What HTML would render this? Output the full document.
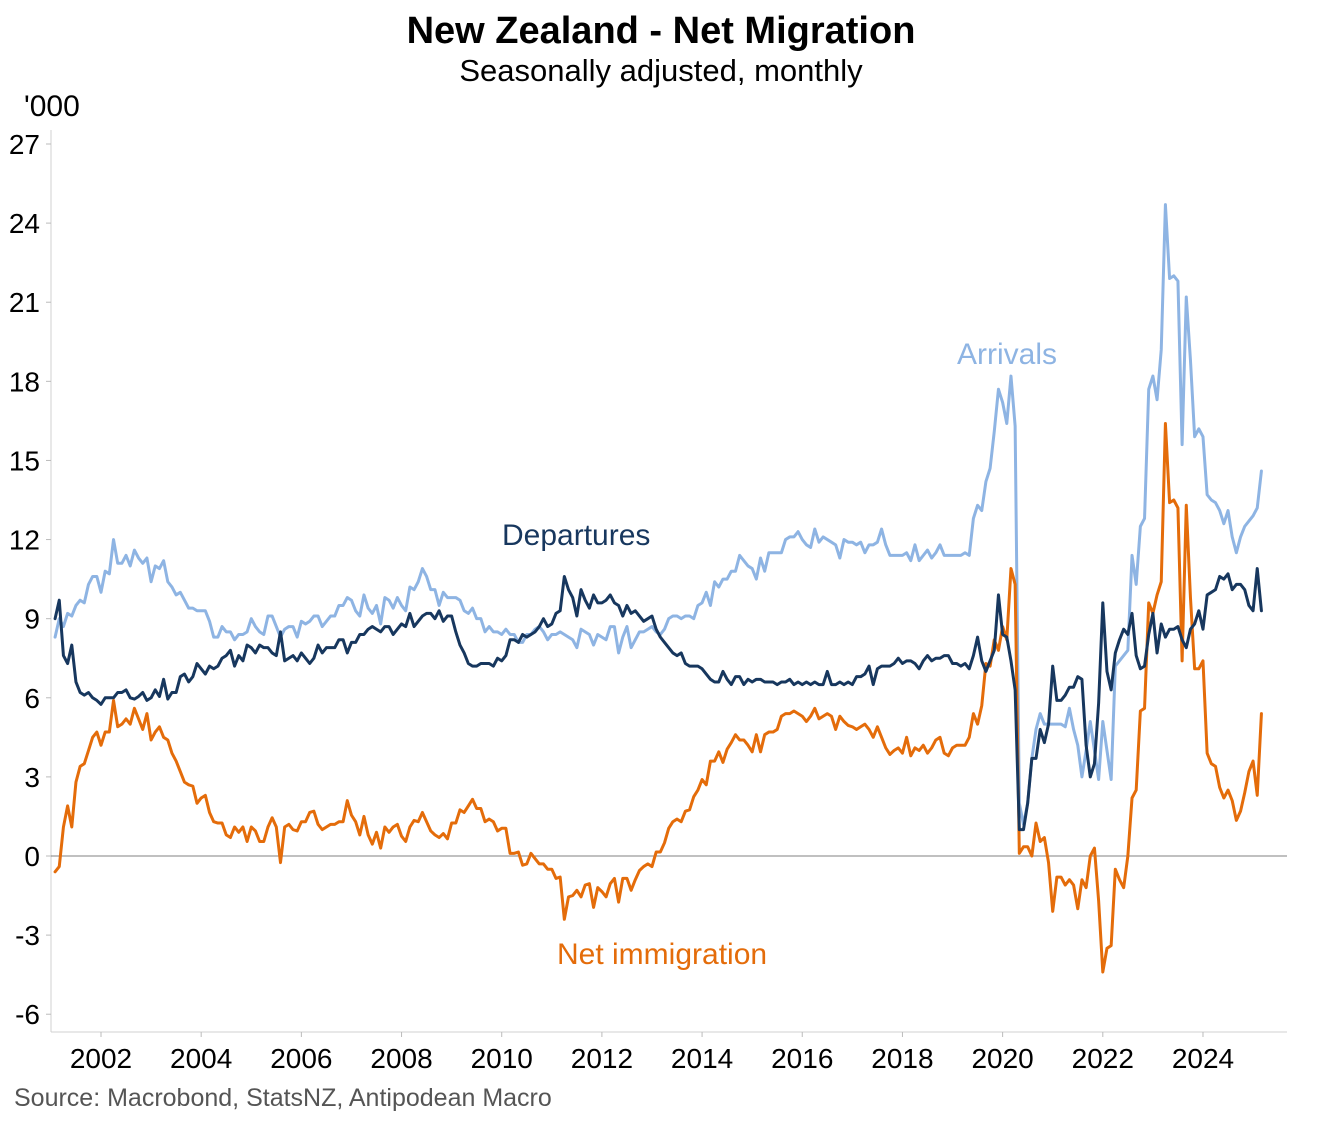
<!DOCTYPE html>
<html>
<head>
<meta charset="utf-8">
<style>
html,body{margin:0;padding:0;background:#fff;}
body{width:1323px;height:1122px;overflow:hidden;font-family:"Liberation Sans",Arial,sans-serif;}
svg{display:block;}
</style>
</head>
<body>
<svg id="chart" width="1323" height="1122" viewBox="0 0 1323 1122" xmlns="http://www.w3.org/2000/svg">
  <text x="661" y="43" text-anchor="middle" font-size="38" font-weight="bold" fill="#000">New Zealand - Net Migration</text>
  <text x="661" y="81" text-anchor="middle" font-size="31" fill="#000">Seasonally adjusted, monthly</text>
  <text x="24" y="116" font-size="30" fill="#000">'000</text>
  <g id="axes"></g>
  <g id="series"></g>
  <text x="957" y="364" font-size="30" fill="#8EB4E3">Arrivals</text>
  <text x="502" y="545" font-size="30" fill="#17375E">Departures</text>
  <text x="557" y="964" font-size="30" fill="#E46C0A">Net immigration</text>
  <text x="14" y="1106" font-size="25" fill="#555">Source: Macrobond, StatsNZ, Antipodean Macro</text>
</svg>
<script>
const yTicks = [-6,-3,0,3,6,9,12,15,18,21,24,27];
const xTickYears = [2002,2004,2006,2008,2010,2012,2014,2016,2018,2020,2022,2024];
const startYear = 2001, startMonth = 1; // Feb 2001 (0-based month)

const departures = [
9.0,9.7,7.6,7.3,8.0,6.6,6.2,6.1,6.2,6.0,5.9,
5.75,6.0,6.0,6.0,6.2,6.2,6.3,6.0,5.95,6.05,6.2,5.9,
6.0,6.3,6.05,6.7,5.95,6.2,6.2,6.8,6.9,6.6,6.8,7.3,
7.1,6.9,7.2,7.1,7.2,7.5,7.6,7.8,7.2,7.6,7.4,8.0,
7.9,7.7,8.0,7.9,7.9,7.7,7.6,8.5,7.4,7.5,7.6,7.4,
7.7,7.5,7.3,7.5,8.0,7.7,7.9,7.9,7.9,8.2,8.2,7.7,
8.1,8.1,8.4,8.4,8.6,8.7,8.6,8.5,8.7,8.7,8.4,8.6,
8.8,8.7,9.2,8.7,8.9,9.1,9.2,9.2,9.0,9.3,8.9,9.1,
9.1,8.5,8.0,7.7,7.3,7.2,7.2,7.3,7.3,7.3,7.2,7.5,
7.4,7.6,8.2,8.2,8.1,8.4,8.3,8.4,8.5,8.7,9.0,8.7,
8.8,9.2,9.3,10.6,10.1,9.8,9.1,10.1,9.7,9.4,9.9,9.6,
9.6,9.7,9.9,9.6,9.5,9.1,9.5,9.2,9.3,9.1,8.9,9.0,
9.1,8.6,8.3,8.1,7.9,7.7,7.6,7.7,7.3,7.2,7.2,7.2,
7.1,6.9,6.7,6.6,6.6,7.0,6.7,6.5,6.8,6.8,6.5,6.7,
6.6,6.7,6.7,6.6,6.6,6.6,6.5,6.6,6.6,6.7,6.5,6.6,
6.5,6.6,6.5,6.6,6.5,6.5,7.0,6.5,6.5,6.6,6.5,6.6,
6.5,6.8,6.8,6.9,7.2,6.5,7.1,7.2,7.2,7.2,7.3,7.5,
7.3,7.4,7.4,7.3,7.1,7.4,7.6,7.4,7.5,7.5,7.6,7.6,
7.3,7.3,7.2,7.3,7.1,7.6,8.3,7.4,7.0,7.4,7.8,9.9,
8.4,8.3,7.4,6.3,1.0,1.0,2.0,3.7,3.7,4.8,4.3,5.0,
7.2,5.9,5.9,6.1,6.4,6.4,6.8,6.7,4.2,3.0,3.5,5.8,
9.6,7.0,6.3,7.7,8.2,8.6,8.4,9.2,7.6,7.1,7.2,8.4,
9.2,7.7,8.8,8.3,8.6,8.6,8.7,8.2,7.9,8.6,8.8,9.3,
8.6,9.9,10.0,10.1,10.6,10.5,10.7,10.1,10.3,10.3,10.1,9.5,
9.3,10.9,9.3];

const arrivals = [
8.3,9.0,8.7,9.2,9.1,9.5,9.7,9.6,10.3,10.6,10.6,
10.0,10.8,10.7,12.0,11.1,11.1,11.4,11.0,11.6,11.3,11.1,11.3,
10.4,11.0,10.9,11.2,10.4,10.2,9.9,10.0,9.7,9.4,9.4,9.3,
9.3,9.3,8.9,8.3,8.3,8.7,8.5,8.5,8.2,8.4,8.4,8.5,
9.0,8.7,8.5,8.4,9.1,9.1,8.7,8.3,8.6,8.7,8.7,8.3,
8.9,8.8,8.9,9.1,9.1,8.7,8.9,9.1,9.1,9.5,9.5,9.8,
9.7,9.3,9.1,9.9,9.4,9.2,9.5,8.8,9.8,9.7,9.4,9.8,
9.5,9.3,10.2,10.1,10.4,10.9,10.6,10.1,10.1,9.5,10.0,9.8,
9.8,9.8,9.7,9.3,9.2,9.4,9.0,9.0,8.5,8.7,8.5,8.5,
8.4,8.6,8.4,8.4,8.1,8.1,8.4,8.4,8.6,8.7,8.5,8.2,
8.4,8.4,8.5,8.4,8.3,8.2,7.9,8.6,8.5,8.4,8.0,8.4,
8.3,8.2,8.7,8.7,7.7,8.3,8.7,7.9,8.2,8.5,8.5,8.6,
8.7,8.5,8.4,8.6,9.0,9.1,9.1,9.0,9.1,9.1,9.0,9.5,
9.6,10.0,9.5,10.4,10.2,10.5,10.5,10.8,10.8,11.4,11.2,11.0,
10.9,10.5,11.3,10.8,11.5,11.5,11.5,11.5,12.0,12.1,12.1,12.3,
12.0,11.8,11.7,12.4,11.9,12.1,12.0,11.9,11.8,11.3,12.0,11.9,
11.9,11.8,11.9,11.5,11.8,11.8,11.9,12.4,11.8,11.4,11.4,11.4,
11.4,11.5,11.2,11.8,11.2,11.4,11.6,11.3,11.5,11.8,11.4,11.4,
11.4,11.4,11.4,11.5,11.4,12.8,13.3,13.1,14.2,14.7,16.1,17.7,
17.2,16.4,18.2,16.3,2.0,1.2,2.0,3.7,4.8,5.4,5.0,5.0,
5.0,5.0,5.0,4.9,5.6,4.8,4.2,3.0,4.0,5.1,4.0,2.9,
5.1,4.0,2.9,7.2,7.4,7.6,7.8,11.4,10.3,12.5,12.8,17.7,
18.2,17.3,19.2,24.7,21.9,22.0,21.8,15.6,21.2,18.8,15.9,16.2,
15.9,13.7,13.5,13.4,13.1,12.6,13.1,12.1,11.5,12.1,12.5,12.7,
12.9,13.2,14.6];

const netImmigration = [
-0.6,-0.4,1.1,1.9,1.1,2.8,3.4,3.5,4.0,4.5,4.7,
4.2,4.7,4.7,5.9,4.9,5.0,5.2,5.0,5.6,5.2,4.8,5.4,
4.4,4.7,4.9,4.5,4.4,3.9,3.6,3.2,2.8,2.7,2.65,2.0,
2.2,2.3,1.65,1.3,1.25,1.25,0.8,0.7,1.1,0.9,1.1,0.55,
1.1,0.95,0.55,0.55,1.1,1.45,1.1,-0.25,1.1,1.2,1.0,0.95,
1.3,1.3,1.65,1.7,1.2,1.0,1.1,1.2,1.2,1.3,1.3,2.1,
1.55,1.3,0.8,1.5,0.8,0.45,0.9,0.3,1.1,0.9,1.1,1.2,
0.75,0.55,1.1,1.35,1.3,1.65,1.3,0.95,0.8,0.7,0.85,0.65,
1.25,1.25,1.75,1.65,1.9,2.15,1.8,1.8,1.3,1.4,1.3,0.95,
1.05,1.05,0.1,0.1,0.15,-0.35,-0.3,0.1,-0.1,-0.3,-0.3,-0.5,
-0.5,-0.85,-0.8,-2.4,-1.55,-1.5,-1.3,-1.55,-1.1,-1.05,-1.95,-1.2,
-1.35,-1.55,-1.05,-0.85,-1.75,-0.85,-0.85,-1.3,-0.9,-0.55,-0.4,-0.3,
-0.4,0.15,0.15,0.5,1.05,1.3,1.4,1.3,1.7,1.75,2.25,2.5,
2.9,2.7,3.6,3.6,3.95,3.55,4.05,4.3,4.6,4.4,4.4,4.2,
3.95,4.6,3.95,4.6,4.7,4.7,4.8,5.3,5.4,5.4,5.5,5.4,
5.3,5.1,5.3,5.6,5.2,5.3,5.4,5.3,4.8,5.3,5.1,4.95,
4.9,4.8,4.9,5.0,4.8,4.5,4.9,4.5,4.1,3.85,4.0,4.1,
3.9,4.5,3.8,4.1,4.0,4.2,3.9,4.1,4.4,4.5,3.9,3.8,
4.1,4.2,4.2,4.2,4.5,5.4,5.0,5.7,7.3,7.2,8.2,7.8,
8.7,8.2,10.9,10.3,0.1,0.35,0.35,0.0,1.25,0.55,0.7,-0.25,
-2.1,-0.8,-0.8,-1.1,-0.9,-1.1,-2.0,-0.9,-1.2,0.0,0.3,-1.7,
-4.4,-3.5,-3.4,-0.5,-0.9,-1.2,0.0,2.2,2.5,5.5,5.6,9.6,
9.2,9.9,10.4,16.4,13.4,13.5,13.2,7.4,13.3,9.8,7.1,7.1,
7.4,3.9,3.5,3.4,2.6,2.2,2.5,2.1,1.35,1.7,2.4,3.2,
3.6,2.3,5.4];

const NS = "http://www.w3.org/2000/svg";
const plotLeft = 51, plotRight = 1287, plotBottom = 1032, plotTop = 130;
function yScale(v){ return 856 - v * (712/27); }
function xScale(t){ return 101 + (t - 2002) * 50.09; }
function monthT(i){ return startYear + (startMonth + i) / 12; }

const axes = document.getElementById('axes');
function mk(tag, attrs, parent){
  const el = document.createElementNS(NS, tag);
  for (const k in attrs) el.setAttribute(k, attrs[k]);
  parent.appendChild(el);
  return el;
}
const yAxis = mk('line', {x1:plotLeft, x2:plotLeft, y1:plotTop, y2:plotBottom, stroke:'#d0d0d0', 'stroke-width':1}, axes);


const xAxis = mk('line', {x1:plotLeft, x2:plotRight, y1:plotBottom, y2:plotBottom, stroke:'#d0d0d0', 'stroke-width':1}, axes);


const zero = mk('line', {x1:plotLeft, x2:plotRight, y1:yScale(0), y2:yScale(0), stroke:'#808080', 'stroke-width':1}, axes);



yTicks.forEach(v => {
  const y = yScale(v);
  const tk = mk('line', {x1:plotLeft-5, x2:plotLeft, y1:y, y2:y, stroke:'#bbb', 'stroke-width':1}, axes);
  
  
  const tx = mk('text', {x:40, y:y+10, 'text-anchor':'end', 'font-size':28, fill:'#000'}, axes);
  tx.textContent = String(v);
  
  
});
xTickYears.forEach(yr => {
  const x = xScale(yr);
  const tk = mk('line', {x1:x, x2:x, y1:plotBottom, y2:plotBottom+5, stroke:'#bbb', 'stroke-width':1}, axes);
  
  
  const tx = mk('text', {x:x, y:1068, 'text-anchor':'middle', 'font-size':28, fill:'#000'}, axes);
  tx.textContent = String(yr);
  
  
});

const series = document.getElementById('series');
function drawLine(data, color, name){
  const d = data.map((v,i) => (i ? 'L' : 'M') + xScale(monthT(i)).toFixed(2) + ',' + yScale(v).toFixed(2)).join(' ');
  const p = mk('path', {d:d, fill:'none', stroke:color, 'stroke-width':3, 'stroke-linejoin':'round', 'stroke-linecap':'round'}, series);
  
  
}
drawLine(arrivals, '#8EB4E3', 'arrivals-line');
drawLine(netImmigration, '#E46C0A', 'net-immigration-line');
drawLine(departures, '#17375E', 'departures-line');
</script>
</body>
</html>
